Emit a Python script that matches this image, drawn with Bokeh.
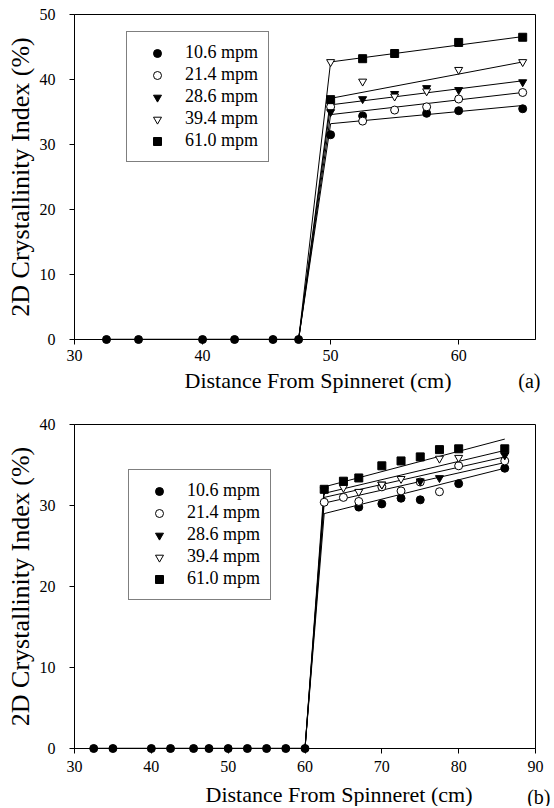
import numpy as np
from bokeh.plotting import figure
from bokeh.layouts import column
from bokeh.models import Legend, LegendItem, FixedTicker, Range1d
from bokeh.core.properties import value
from bokeh.embed import file_html
from bokeh.resources import INLINE

NAN = float("nan")
FONT = "Liberation Serif"

series_labels = ["10.6 mpm", "21.4 mpm", "28.6 mpm", "39.4 mpm", "61.0 mpm"]
series_markers = ["circle", "circle", "inverted_triangle", "inverted_triangle", "square"]
series_filled = [True, False, True, False, True]

# ---------------- Panel (a) ----------------
a_zero_x = [32.5, 35, 40, 42.5, 45.5, 47.5]
a_zero_y = [0, 0, 0, 0, 0, 0]
a_x = [50, 52.5, 55, 57.5, 60, 65]
a_106 = [31.5, 34.4, NAN, 34.8, 35.2, 35.5]
a_214 = [35.8, 33.6, 35.3, 35.8, 37.0, 38.0]
a_286 = [35.0, 37.0, 37.8, 38.7, 38.4, 39.6]
a_394 = [42.7, 39.7, 37.4, 38.2, 41.5, 42.7]
a_610 = [36.9, 43.2, 44.0, NAN, 45.7, 46.5]
a_fit_x = [50, 65]
a_fit_106 = [33.2, 36.0]
a_fit_214 = [34.6, 38.0]
a_fit_286 = [36.1, 39.8]
a_fit_394 = [37.1, 42.7]
a_fit_610 = [42.7, 46.6]
a_xticks = [30, 40, 50, 60]
a_yticks = [0, 10, 20, 30, 40, 50]

# ---------------- Panel (b) ----------------
b_zero_x = [32.5, 35, 40, 42.5, 45.5, 47.5, 50, 52.5, 55, 57.5, 60]
b_zero_y = [0, 0, 0, 0, 0, 0, 0, 0, 0, 0, 0]
b_x = [62.5, 65, 67, 70, 72.5, 75, 77.5, 80, 86]
b_106 = [NAN, NAN, 29.8, 30.2, 30.9, 30.7, NAN, 32.7, 34.6]
b_214 = [30.4, 31.0, 30.5, 32.3, 31.8, 32.9, 31.7, 34.9, 35.5]
b_286 = [31.9, NAN, NAN, 32.6, NAN, 33.0, 33.4, NAN, 36.2]
b_394 = [NAN, 32.2, 31.7, 32.6, 33.3, NAN, 35.8, 35.9, NAN]
b_610 = [32.0, 33.0, 33.4, 34.9, 35.5, 36.0, 36.9, 37.0, 37.0]
b_fit_x = [62.5, 86]
b_fit_106 = [29.0, 34.6]
b_fit_214 = [30.3, 35.3]
b_fit_286 = [31.0, 36.0]
b_fit_394 = [31.5, 36.8]
b_fit_610 = [32.3, 38.2]
b_xticks = [30, 40, 50, 60, 70, 80, 90]
b_yticks = [0, 10, 20, 30, 40]

X_TITLE = "Distance From Spinneret (cm)"
Y_TITLE = "2D Crystallinity Index (%)"


def make_panel(width, height, borders, xr, yr, xticks, yticks,
               zero_x, zero_y, xs, ys_list, fit_x, fits, tag, tag_offset,
               title_offset, legend_loc, tick_standoff):
    left, right, top, bottom = borders
    p = figure(width=width, height=height, output_backend="svg",
               toolbar_location=None,
               x_range=Range1d(*xr), y_range=Range1d(*yr),
               min_border_left=left, min_border_right=right,
               min_border_top=top, min_border_bottom=bottom)
    p.xgrid.visible = False
    p.ygrid.visible = False
    p.outline_line_color = "black"
    p.outline_line_width = 1
    p.background_fill_color = "white"
    p.border_fill_color = "white"

    for ax in (p.xaxis[0], p.yaxis[0]):
        ax.axis_line_color = "black"
        ax.major_tick_line_color = "black"
        ax.minor_tick_line_color = None
        ax.major_tick_out = 5
        ax.major_tick_in = 0
        ax.major_label_text_font = FONT
        ax.major_label_text_font_size = "16px"
        ax.major_label_text_color = "black"
        ax.axis_label_text_font = FONT
        ax.axis_label_text_font_style = "normal"
        ax.axis_label_text_color = "black"
    p.xaxis.ticker = FixedTicker(ticks=xticks)
    p.yaxis.ticker = FixedTicker(ticks=yticks)
    p.yaxis.axis_label = Y_TITLE
    p.yaxis.axis_label_text_font_size = "26px"
    p.xaxis.major_label_standoff = tick_standoff
    p.yaxis.major_label_standoff = 14
    p.yaxis.axis_label_standoff = 2

    # fitted lines and the jump from the last zero point
    for fit in fits:
        p.line(fit_x, fit, line_color="black", line_width=1)
        p.line([zero_x[-1], fit_x[0]], [0, fit[0]], line_color="black", line_width=1)
    p.line(zero_x, zero_y, line_color="black", line_width=1.5)

    renderers = []
    for lab, mk, filled, ys in zip(series_labels, series_markers, series_filled, ys_list):
        r = p.scatter(np.array(xs, dtype=float), np.array(ys, dtype=float), marker=mk, size=8,
                      fill_color="black" if filled else "white",
                      line_color="black", line_width=1, level="overlay")
        renderers.append(r)
    p.scatter(zero_x, zero_y, marker="circle", size=8, fill_color="black",
              line_color="black", level="overlay")

    legend = Legend(items=[LegendItem(label=lab, renderers=[r])
                           for lab, r in zip(series_labels, renderers)],
                    location=legend_loc, border_line_color="black", border_line_width=1,
                    padding=10, spacing=1, glyph_width=40, glyph_height=20,
                    label_standoff=8, label_text_font=FONT, label_text_font_size="18px",
                    label_text_color="black", margin=0, background_fill_alpha=1.0)
    p.add_layout(legend)

    # x-axis title (placed below the axis) and panel tag
    p.text(x=[(xr[0] + xr[1]) / 2], y=[yr[0]], text=[X_TITLE],
           x_offset=title_offset[0], y_offset=title_offset[1],
           text_align="center", text_baseline="middle", text_font=value(FONT),
           text_font_size="22px", text_color="black", level="overlay")
    p.text(x=[xr[1]], y=[yr[0]], text=[tag], x_offset=tag_offset[0], y_offset=tag_offset[1],
           text_align="right", text_baseline="middle", text_font=value(FONT),
           text_font_size="20px", text_color="black", level="overlay")
    return p


W = 552
pa = make_panel(W, 398, (74, W - 543, 14, 59), (30, 66), (0, 50), a_xticks, a_yticks,
                a_zero_x, a_zero_y, a_x, [a_106, a_214, a_286, a_394, a_610],
                a_fit_x, [a_fit_106, a_fit_214, a_fit_286, a_fit_394, a_fit_610],
                "(a)", (5, 41), (13, 41), (52, 177), 5)
pb = make_panel(W, 408, (74, W - 535, 26, 58), (30, 90), (0, 40), b_xticks, b_yticks,
                b_zero_x, b_zero_y, b_x, [b_106, b_214, b_286, b_394, b_610],
                b_fit_x, [b_fit_106, b_fit_214, b_fit_286, b_fit_394, b_fit_610],
                "(b)", (15, 48), (34, 46), (54, 148), 7)

layout = column(pa, pb, spacing=0)
open("out.html", "w").write(file_html(layout, INLINE))
